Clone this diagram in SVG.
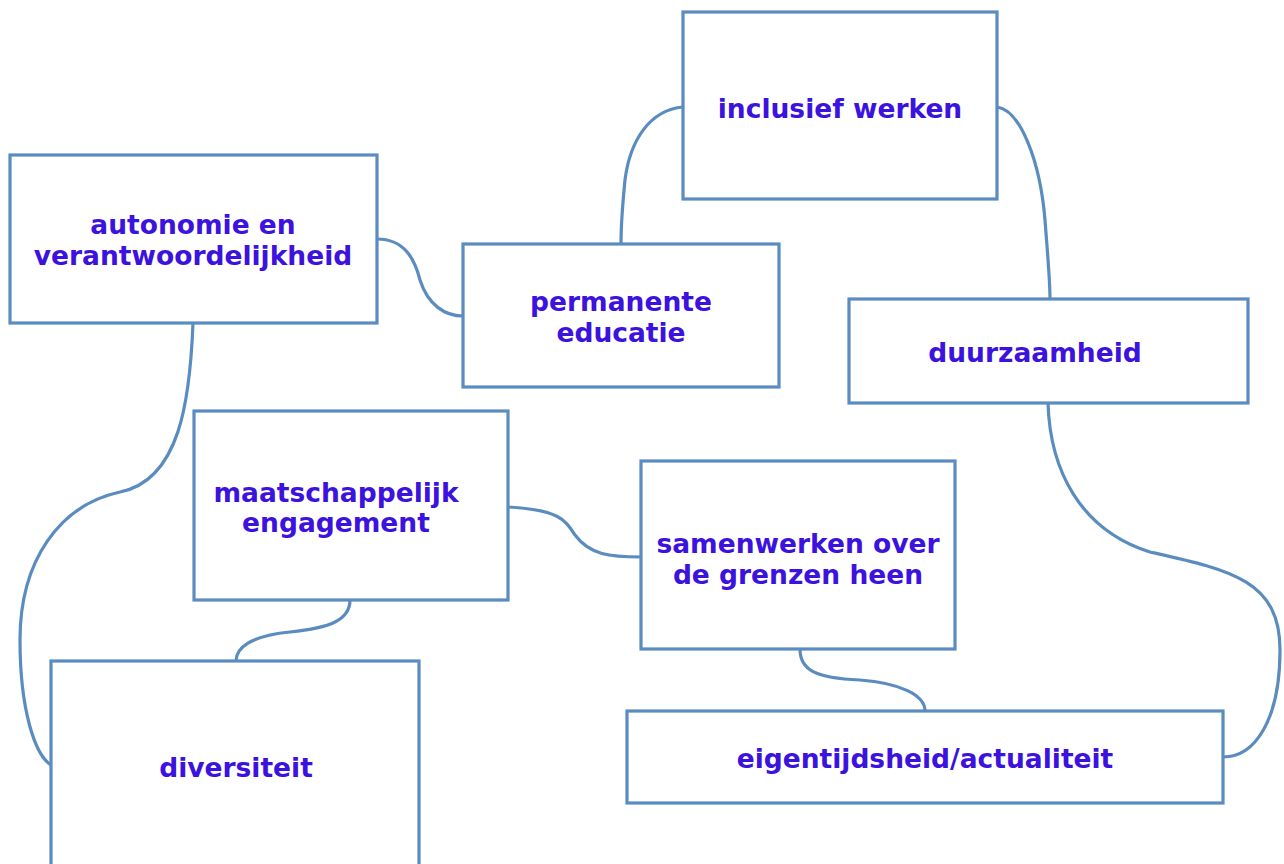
<svg xmlns="http://www.w3.org/2000/svg" width="1284" height="864" viewBox="0 0 1284 864">
<style>
.box{fill:#fff;stroke:#5b8cbf;stroke-width:3.2}
.con{fill:none;stroke:#5b8cbf;stroke-width:3.2}
.t{font-family:"DejaVu Sans",Verdana,sans-serif;font-weight:bold;font-size:26.5px;fill:#3b12de;text-anchor:middle}
</style>
<rect width="1284" height="864" fill="#fff"/>
<g id="connectors">
<path class="con" d="M377,239 C405,239 415,260 420,280 C428,305 445,316 463,316"/>
<path class="con" d="M683,107 C650,110 630,140 625,180 C622,210 621,230 621,244"/>
<path class="con" d="M997,107 C1020,110 1040,160 1045,220 C1048,260 1050,280 1050,299"/>
<path class="con" d="M1048,403 C1050,470 1080,530 1150,552 C1230,570 1280,580 1280,650 C1280,720 1255,757 1223,757"/>
<path class="con" d="M193,323 C190,400 180,480 120,492 C60,505 20,560 20,640 C20,710 35,755 51,765"/>
<path class="con" d="M508,507 C560,510 565,520 575,535 C590,555 610,557 641,557"/>
<path class="con" d="M350,600 C350,620 330,628 290,632 C250,636 236,648 236,661"/>
<path class="con" d="M800,649 C800,670 815,678 860,680 C900,683 925,695 925,711"/>
</g>
<g id="autonomie"><rect class="box" x="10" y="155" width="367" height="168"/><text class="t" x="193" y="234">autonomie en</text><text class="t" x="193" y="265">verantwoordelijkheid</text></g>
<g id="inclusief"><rect class="box" x="683" y="12" width="314" height="187"/><text class="t" x="840" y="118">inclusief werken</text></g>
<g id="permanente"><rect class="box" x="463" y="244" width="316" height="143"/><text class="t" x="621" y="311">permanente</text><text class="t" x="621" y="342">educatie</text></g>
<g id="duurzaamheid"><rect class="box" x="849" y="299" width="399" height="104"/><text class="t" x="1035" y="362">duurzaamheid</text></g>
<g id="maatschappelijk"><rect class="box" x="194" y="411" width="314" height="189"/><text class="t" x="336" y="502">maatschappelijk</text><text class="t" x="336" y="532">engagement</text></g>
<g id="samenwerken"><rect class="box" x="641" y="461" width="314" height="188"/><text class="t" x="798" y="553">samenwerken over</text><text class="t" x="798" y="584">de grenzen heen</text></g>
<g id="diversiteit"><rect class="box" x="51" y="661" width="368" height="220"/><text class="t" x="236" y="777">diversiteit</text></g>
<g id="eigentijdsheid"><rect class="box" x="627" y="711" width="596" height="92"/><text class="t" x="925" y="768">eigentijdsheid/actualiteit</text></g>
</svg>
